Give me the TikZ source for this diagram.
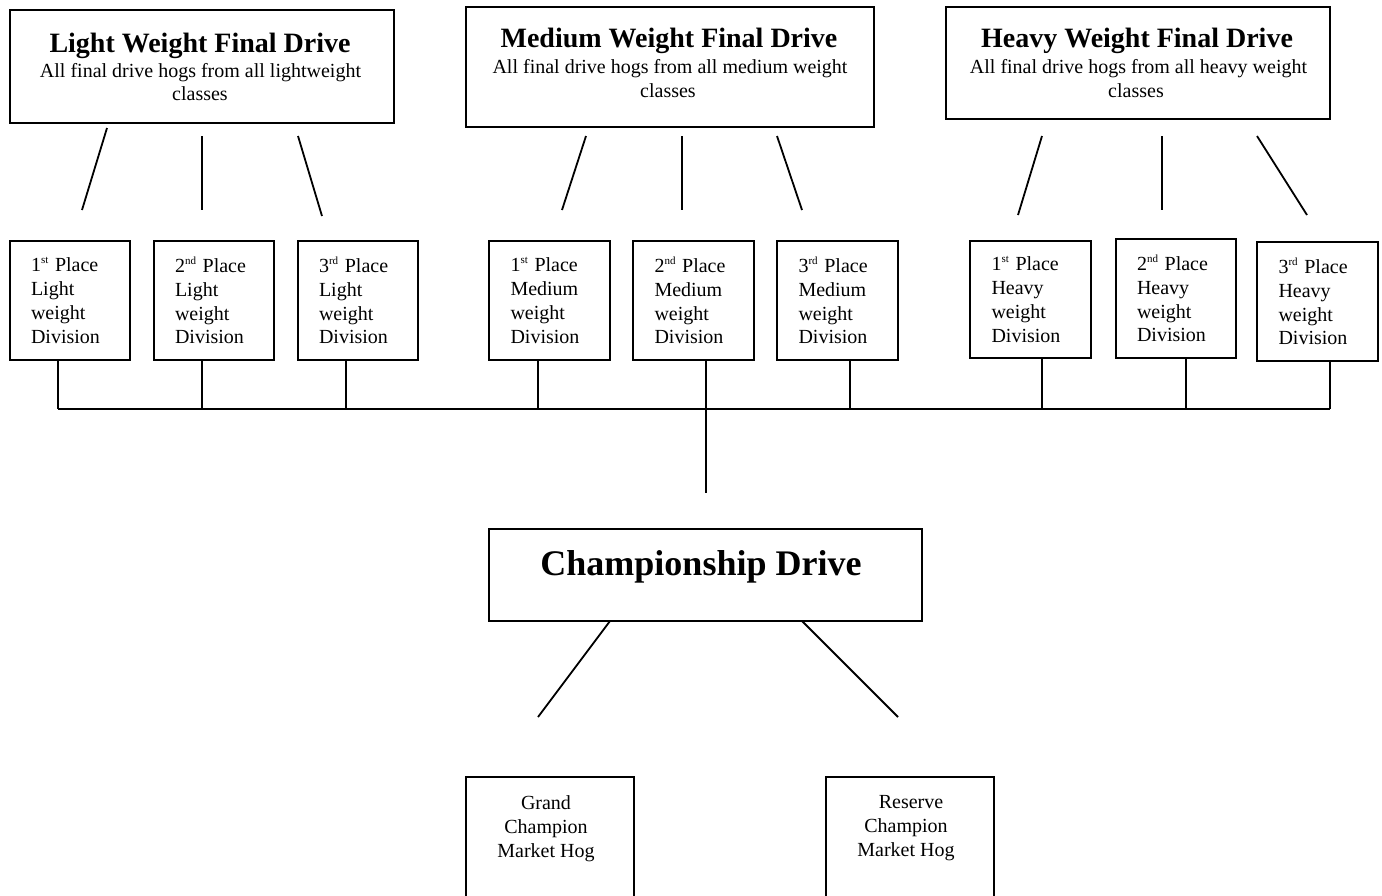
\documentclass[tikz,border=0pt]{standalone}
\usepackage{fontspec}
\setmainfont{Liberation Serif}
\newcommand\ordsup[1]{\raisebox{8pt}{\fontsize{11}{11}\selectfont #1}}
\begin{document}
\begin{tikzpicture}[x=1pt,y=-1pt,
  box/.style={draw, line width=2.2pt, inner sep=0pt, outer sep=0pt, anchor=north west},
  wire/.style={line width=1.8pt},
  small/.style={box, align=left, text width=78pt, font=\fontsize{20}{23.7}\selectfont},
  ttl/.style={anchor=base, inner sep=0pt, font=\fontsize{28}{28}\selectfont\bfseries},
  sub/.style={anchor=base, inner sep=0pt, font=\fontsize{20}{20}\selectfont},
  lbl/.style={anchor=north, inner sep=0pt, align=center, font=\fontsize{20}{24}\selectfont},
]
\useasboundingbox (0,0) rectangle (1382,895);
\clip (0,0) rectangle (1382,895);

% top boxes
\node[box, minimum width=384pt, minimum height=113pt] (lw) at (10,10) {};
\node[box, minimum width=408pt, minimum height=120pt] (mw) at (466,7) {};
\node[box, minimum width=384pt, minimum height=112pt] (hw) at (946,7) {};

\node[ttl] (lwt) at (200,52) {Light Weight Final Drive};
\node[sub] (lws) at (200.5,77) {All final drive hogs from all lightweight};
\node[sub] (lwc) at (200,100) {classes};

\node[ttl] (mwt) at (669,47) {Medium Weight Final Drive};
\node[sub] (mws) at (670,73) {All final drive hogs from all medium weight};
\node[sub] (mwc) at (668,97) {classes};

\node[ttl] (hwt) at (1137,47) {Heavy Weight Final Drive};
\node[sub] (hws) at (1138.5,73) {All final drive hogs from all heavy weight};
\node[sub] (hwc) at (1136,97) {classes};

% slanted connectors (free ends)
\coordinate (la1) at (107,128); \coordinate (lb1) at (82,210);
\coordinate (la2) at (202,136); \coordinate (lb2) at (202,210);
\coordinate (la3) at (298,136); \coordinate (lb3) at (322,216);
\coordinate (ma1) at (586,136); \coordinate (mb1) at (562,210);
\coordinate (ma2) at (682,136); \coordinate (mb2) at (682,210);
\coordinate (ma3) at (777,136); \coordinate (mb3) at (802,210);
\coordinate (ha1) at (1042,136); \coordinate (hb1) at (1018,215);
\coordinate (ha2) at (1162,136); \coordinate (hb2) at (1162,210);
\coordinate (ha3) at (1257,136); \coordinate (hb3) at (1307,215);
\foreach \p in {l,m,h}{
  \foreach \i in {1,2,3}{
    \draw[wire] (\p a\i) -- (\p b\i);
  }
}

% place boxes
\node[small, minimum width=120pt, minimum height=119pt] (l1) at (10,241) {1\ordsup{st} Place\\Light\\weight\\Division};
\node[small, minimum width=120pt, minimum height=119pt] (l2) at (154,241) {2\ordsup{nd} Place\\Light\\weight\\Division};
\node[small, minimum width=120pt, minimum height=119pt] (l3) at (298,241) {3\ordsup{rd} Place\\Light\\weight\\Division};
\node[small, minimum width=121pt, minimum height=119pt] (m1) at (489,241) {1\ordsup{st} Place\\Medium\\weight\\Division};
\node[small, minimum width=121pt, minimum height=119pt] (m2) at (633,241) {2\ordsup{nd} Place\\Medium\\weight\\Division};
\node[small, minimum width=121pt, minimum height=119pt] (m3) at (777,241) {3\ordsup{rd} Place\\Medium\\weight\\Division};
\node[small, minimum width=121pt, minimum height=117pt] (h1) at (970,241) {1\ordsup{st} Place\\Heavy\\weight\\Division};
\node[small, minimum width=120pt, minimum height=119pt] (h2) at (1116,239) {2\ordsup{nd} Place\\Heavy\\weight\\Division};
\node[small, minimum width=121pt, minimum height=119pt] (h3) at (1257,242) {3\ordsup{rd} Place\\Heavy\\weight\\Division};

% bus
\coordinate (busL) at (58,409);
\coordinate (busR) at (1330,409);
\coordinate (down) at (706,493);
\draw[wire] (busL) -- (busR);
\draw[wire] ([xshift=-12pt]l1.south) -- ([xshift=-12pt]l1.south |- busL);
\draw[wire] ([xshift=-12pt]l2.south) -- ([xshift=-12pt]l2.south |- busL);
\draw[wire] ([xshift=-12pt]l3.south) -- ([xshift=-12pt]l3.south |- busL);
\draw[wire] ([xshift=-11.5pt]m1.south) -- ([xshift=-11.5pt]m1.south |- busL);
\draw[wire] ([xshift=12.5pt]m2.south) -- ([xshift=12.5pt]m2.south |- down);
\draw[wire] ([xshift=12.5pt]m3.south) -- ([xshift=12.5pt]m3.south |- busL);
\draw[wire] ([xshift=11.5pt]h1.south) -- ([xshift=11.5pt]h1.south |- busL);
\draw[wire] ([xshift=10pt]h2.south) -- ([xshift=10pt]h2.south |- busL);
\draw[wire] ([xshift=12.5pt]h3.south) -- ([xshift=12.5pt]h3.south |- busL);

% championship
\node[box, minimum width=433pt, minimum height=92pt] (champ) at (489,529) {};
\node[anchor=base, inner sep=0pt, font=\fontsize{36}{36}\selectfont\bfseries] (champt) at (701,575) {Championship Drive};
\coordinate (gEnd) at (538,717);
\coordinate (rEnd) at (898,717);
\draw[wire] ([xshift=-95.5pt]champ.south) -- (gEnd);
\draw[wire] ([xshift=96.5pt]champ.south) -- (rEnd);

% bottom boxes (cut off by the page edge)
\node[box, minimum width=168pt, minimum height=160pt] (grand) at (466,777) {};
\node[box, minimum width=168pt, minimum height=160pt] (reserve) at (826,777) {};
\node[lbl] (grandt) at (546,795.3) {Grand\\Champion\\Market Hog};
\node[lbl] (reservet) at (906,795.3) {\hspace*{10pt}Reserve\\Champion\\Market Hog};
\end{tikzpicture}
\end{document}
